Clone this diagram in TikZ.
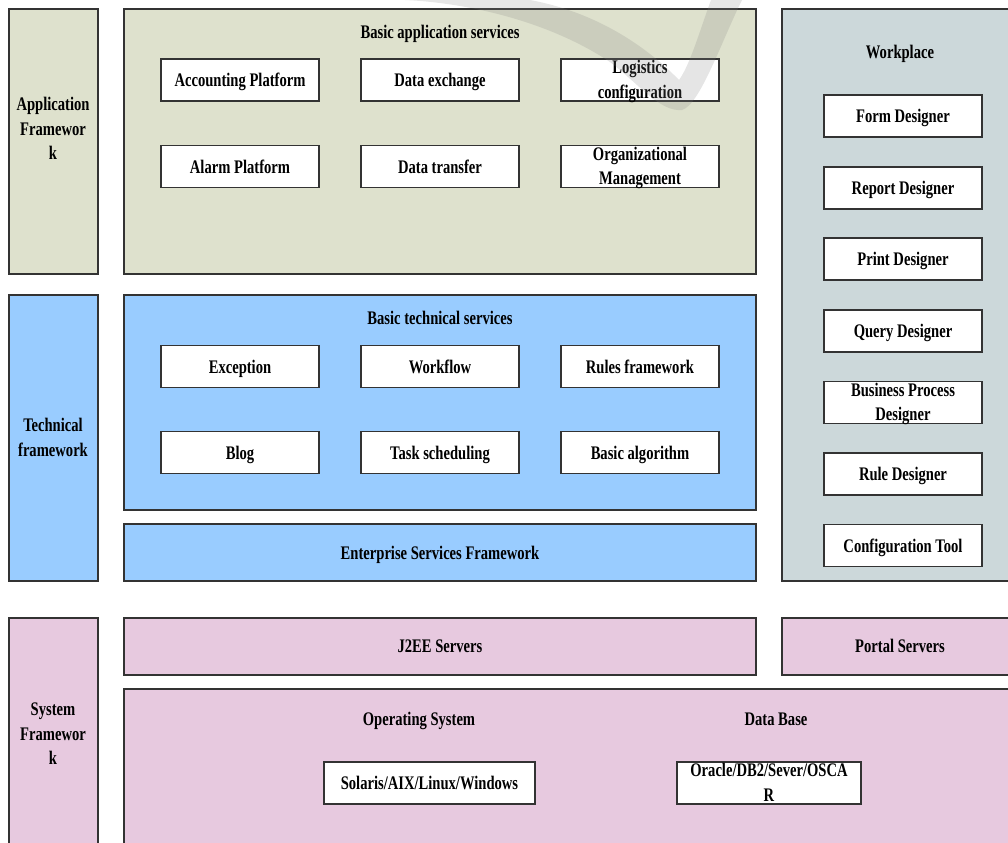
\documentclass[tikz,border=0pt]{standalone}
\usepackage{fontspec}
\setmainfont{Liberation Serif}[FakeStretch=0.76]
\usetikzlibrary{fit}
\definecolor{appc}{HTML}{DEE1CD}
\definecolor{techc}{HTML}{99CCFF}
\definecolor{workc}{HTML}{CCD8DA}
\definecolor{sysc}{HTML}{E7C9DF}
\definecolor{edgec}{HTML}{333333}
\tikzset{
  panel/.style={draw=edgec, line width=0.8pt, inner sep=0pt, fill=#1},
  wbox/.style={draw=edgec, line width=1pt, fill=white, minimum width=118.5pt, minimum height=31.5pt, inner sep=0pt, align=center, text height=12pt, text depth=2pt},
  lbl/.style={align=center, inner sep=0pt, text height=12pt, text depth=2pt},
  twoline/.style={text height=29.3pt},
  threeline/.style={text height=48.4pt},
}
\begin{document}
\begin{tikzpicture}[x=0.75pt, y=-0.75pt, font=\fontsize{14.4}{18.2}\selectfont\bfseries]
\useasboundingbox (0,0) rectangle (1008,843);
\clip (0,0) rectangle (1008,843);
% panels
\node[panel=appc, fit={(9,9)(98,274)}] (appfw) {};
\node[panel=appc, fit={(124,9)(756,274)}] (appsrv) {};
\node[panel=workc, fit={(782,9)(1020,581)}] (work) {};
\node[panel=techc, fit={(9,295)(98,581)}] (techfw) {};
\node[panel=techc, fit={(124,295)(756,510)}] (techsrv) {};
\node[panel=techc, fit={(124,524)(756,581)}] (esf) {};
\node[panel=sysc, fit={(9,618)(98,860)}] (sysfw) {};
\node[panel=sysc, fit={(124,618)(756,675)}] (j2ee) {};
\node[panel=sysc, fit={(782,618)(1020,675)}] (portal) {};
\node[panel=sysc, fit={(124,689)(1020,860)}] (osdb) {};
% panel labels
\node[lbl, threeline] (appfwt) at (53,128.5) {Application\\Framewor\\k};
\node[lbl] (appsrvt) at (440,32) {Basic application services};
\node[lbl] (workt) at (900,52) {Workplace};
\node[lbl, twoline] (techfwt) at (53,438) {Technical\\framework};
\node[lbl] (techsrvt) at (440,318) {Basic technical services};
\node[lbl] (esft) at (440,553) {Enterprise Services Framework};
\node[lbl, threeline] (sysfwt) at (53,733.5) {System\\Framewor\\k};
\node[lbl] (j2eet) at (440,646) {J2EE Servers};
\node[lbl] (portalt) at (900,646) {Portal Servers};
\node[lbl] (ost) at (419,719) {Operating System};
\node[lbl] (dbt) at (776,719) {Data Base};
% application services
\node[wbox] (acc) at (240,80) {Accounting Platform};
\node[wbox] (dex) at (440,80) {Data exchange};
\node[wbox, twoline] (log) at (640,80) {Logistics\\configuration};
\node[wbox] (alarm) at (240,166.5) {Alarm Platform};
\node[wbox] (dtr) at (440,166.5) {Data transfer};
\node[wbox, twoline] (org) at (640,166.5) {Organizational\\Management};
% technical services
\node[wbox] (exc) at (240,366.5) {Exception};
\node[wbox] (wf) at (440,366.5) {Workflow};
\node[wbox] (rules) at (640,366.5) {Rules framework};
\node[wbox] (blog) at (240,452.5) {Blog};
\node[wbox] (task) at (440,452.5) {Task scheduling};
\node[wbox] (algo) at (640,452.5) {Basic algorithm};
% workplace
\node[wbox] (form) at (903,116) {Form Designer};
\node[wbox] (report) at (903,188) {Report Designer};
\node[wbox] (print) at (903,259) {Print Designer};
\node[wbox] (query) at (903,331) {Query Designer};
\node[wbox, twoline] (bpd) at (903,402.5) {Business Process\\Designer};
\node[wbox] (rule) at (903,474) {Rule Designer};
\node[wbox] (conf) at (903,545.5) {Configuration Tool};
% system
\node[wbox, minimum width=158.25pt] (sol) at (429.5,783) {Solaris/AIX/Linux/Windows};
\node[wbox, twoline, minimum width=138pt] (ora) at (769,783) {Oracle/DB2/Sever/OSCA\\R};
% watermark swoosh
\fill[gray, opacity=0.2] (405,0) .. controls (470,3) and (550,22) .. (610,62)
  .. controls (640,85) and (660,112) .. (682,110)
  .. controls (700,105) and (722,40) .. (742,0) -- (711,0)
  .. controls (700,30) and (690,65) .. (679,80)
  .. controls (645,45) and (595,12) .. (530,0) -- cycle;
\end{tikzpicture}
\end{document}
